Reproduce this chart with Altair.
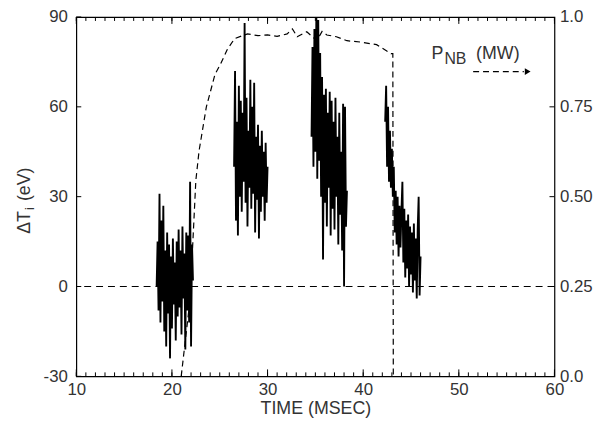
import altair as alt
import pandas as pd

FONT = "Liberation Sans"
TXT = "#333333"
W, H = 483, 363

# ---- data ----
# ΔTi (eV) bursts, sampled every 0.1 ms from the given start time
seg_starts = [18.4, 26.5, 34.6, 42.3]
seg1 = [0, 15, -8, 31, -12, 22, -5, 27, -15, 12, -20, 18, -9, 14, -24, 10, -14, 16, -6, 8,
        -18, 15, -10, 19, -7, 12, -16, 20, -4, 11, -21, 18, -8, 17, -12, 35, -20, 14, 2]
seg2 = [40, 72, 22, 55, 17, 67, 30, 62, 25, 58, 35, 88, 28, 63, 20, 52, 33, 69, 26, 60,
        31, 68, 18, 50, 29, 54, 16, 47, 25, 52, 30, 45, 22, 48, 28, 40]
seg3 = [50, 80, 40, 86, 45, 90, 36, 89, 42, 78, 30, 70, 9, 64, 28, 66, 20, 58, 33, 65,
        17, 62, 26, 55, 19, 63, 30, 50, 14, 58, 24, 45, 12, 61, 0, 60, 20, 32]
seg4 = [55, 67, 40, 60, 35, 52, 33, 46, 30, 40, 18, 32, 14, 30, 10, 27, 13, 25, 35, 8,
        26, 3, 22, 6, 24, 0, 20, 4, 18, -2, 21, 2, 16, -4, 19, 30, -3, 10]
segments = [seg1, seg2, seg3, seg4]

# neutral-beam power P_NB (MW)
pnb_t = [20.97, 21.9, 22.5, 22.84, 23.6, 24.5, 25.1, 25.8, 26.56, 27.9, 29.0, 30.0, 31.0,
         32.05, 32.6, 33.1, 34.1, 34.9, 35.15, 35.7, 36.2, 37.2, 38.3, 39.8, 41.4, 42.9,
         43.1, 43.15]
pnb_mw = [0.0, 0.215, 0.545, 0.628, 0.75, 0.84, 0.87, 0.91, 0.94, 0.953, 0.948, 0.95, 0.946,
          0.953, 0.967, 0.945, 0.959, 0.94, 0.934, 0.96, 0.95, 0.945, 0.934, 0.93, 0.923,
          0.898, 0.898, 0.0]

x_labels = [10, 20, 30, 40, 50, 60]
x_minor = list(range(10, 61))
y_left = [-30, 0, 30, 60, 90]
y_right = [0, 0.25, 0.5, 0.75, 1.0]

rows = []
for k, (s, vals) in enumerate(zip(seg_starts, segments)):
    for i, v in enumerate(vals):
        rows.append({"t": round(s + 0.1 * i, 2), "v": v, "seg": k})
df_ti = pd.DataFrame(rows)
df_p = pd.DataFrame({"t": pnb_t, "p": pnb_mw})

xs = alt.Scale(domain=[10, 60], nice=False, zero=False)
ys_l = alt.Scale(domain=[-30, 90], nice=False, zero=False)
ys_r = alt.Scale(domain=[0, 1], nice=False, zero=False)

lab = dict(labelFont=FONT, labelFontSize=17, labelColor=TXT, labelFlush=False,
           labelOverlap=False, grid=False, domain=False, ticks=False)

ax_x = alt.Axis(orient="bottom", values=x_labels, labelPadding=5, title="TIME (MSEC)",
                titleFont=FONT, titleFontSize=18, titleFontWeight="normal", titleColor=TXT,
                titlePadding=3, **lab)
ax_yl = alt.Axis(orient="left", values=y_left, labelPadding=9, title=None,
                 labelExpr="datum.value + ''", **lab)
ax_yr = alt.Axis(orient="right", values=y_right, labelPadding=5, title=None,
                 labelExpr="datum.value == 0 ? '0.0' : datum.value == 1 ? '1.0' : format(datum.value, '.2f')",
                 **lab)

ti_line = alt.Chart(df_ti).mark_line(color="black", strokeWidth=1.9, clip=True).encode(
    x=alt.X("t:Q", scale=xs, axis=ax_x),
    y=alt.Y("v:Q", scale=ys_l, axis=ax_yl),
    detail="seg:N",
)

zero = alt.Chart(pd.DataFrame({"v": [0]})).mark_rule(
    color="black", strokeDash=[7, 5], strokeWidth=1.2
).encode(y=alt.Y("v:Q", scale=ys_l, axis=None))

pnb = alt.Chart(df_p).mark_line(color="black", strokeDash=[6, 4], strokeWidth=1.2).encode(
    x=alt.X("t:Q", scale=xs, axis=None),
    y=alt.Y("p:Q", scale=ys_r, axis=ax_yr),
)

# inward tick marks on all four sides (positions through the scales)
df_minor = pd.DataFrame({"t": x_minor})
df_major = pd.DataFrame({"t": x_labels})
df_yl = pd.DataFrame({"v": y_left})
df_yr = pd.DataFrame({"p": y_right[1:-1]})
rk = dict(color="black", strokeWidth=1)


def xticks(df, y0, y1):
    return alt.Chart(df).mark_rule(**rk).encode(
        x=alt.X("t:Q", scale=xs, axis=None), y=alt.value(y0), y2=alt.value(y1))


tick_layers = [
    xticks(df_minor, H, H - 4), xticks(df_major, H, H - 7),
    xticks(df_minor, 0, 4), xticks(df_major, 0, 7),
    alt.Chart(df_yl).mark_rule(**rk).encode(
        y=alt.Y("v:Q", scale=ys_l, axis=None), x=alt.value(0), x2=alt.value(5)),
    alt.Chart(df_yr).mark_rule(**rk).encode(
        y=alt.Y("p:Q", scale=ys_r, axis=None), x=alt.value(W), x2=alt.value(W - 5)),
]

df_lab = pd.DataFrame({"t": [47.15], "p": [0.884]})
txt_kw = dict(align="left", baseline="alphabetic", font=FONT, color=TXT)


def label(text, size, dx=0, dy=0):
    return alt.Chart(df_lab).mark_text(text=text, fontSize=size, dx=dx, dy=dy, **txt_kw).encode(
        x=alt.X("t:Q", scale=xs, axis=None), y=alt.Y("p:Q", scale=ys_r, axis=None))


p_txt = label("P", 18)
nb_txt = label("NB", 16, dx=13, dy=5)
mw_txt = label("(MW)", 18, dx=45)

df_arrow = pd.DataFrame({"t": [51.5, 56.8], "p": [0.848, 0.848]})
arrow = alt.Chart(df_arrow).mark_line(color="black", strokeDash=[6, 4], strokeWidth=1.2).encode(
    x=alt.X("t:Q", scale=xs, axis=None),
    y=alt.Y("p:Q", scale=ys_r, axis=None),
)
head = alt.Chart(pd.DataFrame({"t": [57.2], "p": [0.848]})).mark_point(
    shape="triangle-right", filled=True, size=45, color="black", opacity=1
).encode(
    x=alt.X("t:Q", scale=xs, axis=None),
    y=alt.Y("p:Q", scale=ys_r, axis=None),
)

one = pd.DataFrame({"k": [0]})
ttl_kw = dict(angle=270, baseline="middle", font=FONT, color=TXT)
t_dt = alt.Chart(one).mark_text(text="ΔT", align="right", fontSize=18, **ttl_kw).encode(
    x=alt.value(-52), y=alt.value(196))
t_i = alt.Chart(one).mark_text(text="i", align="left", fontSize=13, dx=1, dy=5, **ttl_kw).encode(
    x=alt.value(-52), y=alt.value(196))
t_ev = alt.Chart(one).mark_text(text="(eV)", align="left", fontSize=18, dx=10, **ttl_kw).encode(
    x=alt.value(-52), y=alt.value(196))

chart = alt.layer(
    ti_line, pnb, zero, *tick_layers, p_txt, nb_txt, mw_txt, arrow, head, t_dt, t_i, t_ev
).resolve_scale(y="independent").resolve_axis(x="independent", y="independent").properties(
    width=W, height=H,
    autosize=alt.AutoSizeParams(type="none"),
    padding={"left": 69, "top": 7, "right": 44, "bottom": 40},
).configure_view(stroke="black", strokeWidth=1.2)

chart.save("out.html", embed_options={"renderer": "svg", "actions": False})
